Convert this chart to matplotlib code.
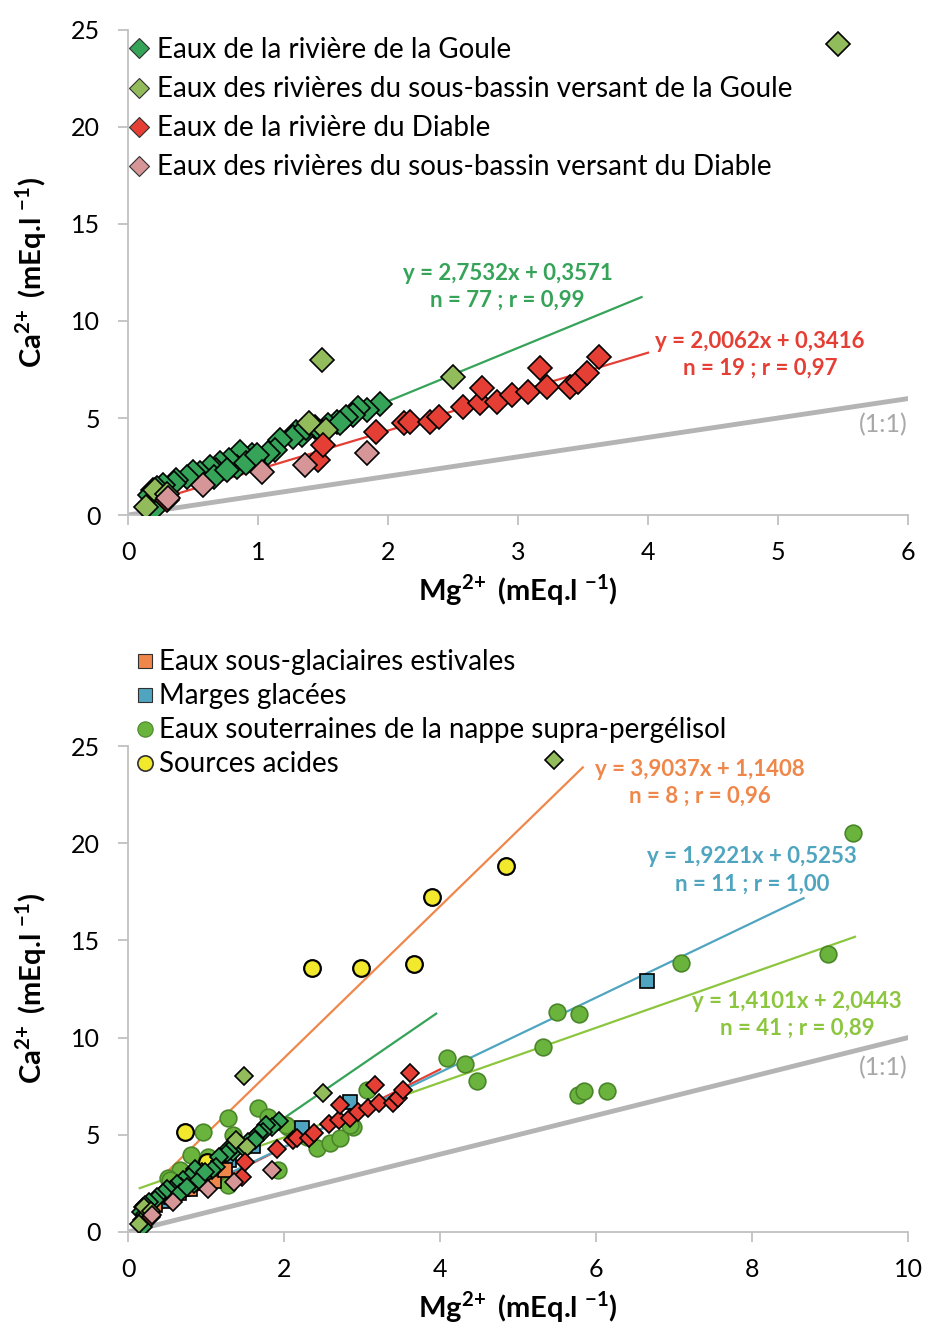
import matplotlib
matplotlib.use("Agg")
import matplotlib.pyplot as plt
from matplotlib.lines import Line2D

plt.rcParams['font.family'] = ['Lato', 'DejaVu Sans']
plt.rcParams['mathtext.fontset'] = 'custom'
plt.rcParams['mathtext.rm'] = 'Lato'
plt.rcParams['mathtext.bf'] = 'Lato:bold'

# --- data (Mg2+, Ca2+ in mEq/l) ---
goule_x = [1.94, 1.84, 1.77, 1.73, 1.68, 1.61, 1.54, 1.44, 1.34, 1.29, 1.27, 1.17, 1.13,
           1.08, 0.96, 0.95, 0.86, 0.84, 0.78, 0.71, 0.68, 0.63, 0.55, 0.50, 0.45, 0.37,
           0.35, 0.27, 0.22, 0.19, 0.17, 0.22, 0.18, 0.19, 0.66, 0.91, 0.76, 0.99, 1.37,
           1.49, 1.63]
goule_y = [5.72, 5.41, 5.50, 5.15, 5.07, 4.81, 4.64, 4.55, 4.12, 4.30, 4.04, 3.87, 3.35,
           3.18, 2.83, 3.09, 3.26, 2.49, 2.83, 2.66, 2.32, 2.49, 2.15, 2.23, 1.98, 1.80,
           1.63, 1.55, 1.37, 1.29, 1.03, 0.95, 0.60, 0.26, 1.98, 2.66, 2.32, 3.09, 4.47,
           4.30, 4.72]

goule_sb_x = [1.49, 2.50, 5.46, 0.14, 1.39, 1.52, 0.21, 0.30]
goule_sb_y = [8.00, 7.13, 24.3, 0.43, 4.73, 4.38, 1.30, 1.10]

diable_x = [0.30, 1.46, 1.50, 1.91, 2.12, 2.17, 2.32, 2.39, 2.58, 2.71, 2.72, 2.84, 2.95,
            3.08, 3.17, 3.22, 3.40, 3.46, 3.53, 3.62]
diable_y = [0.79, 2.83, 3.61, 4.29, 4.73, 4.81, 4.81, 5.07, 5.58, 5.76, 6.53, 5.84, 6.19,
            6.36, 7.56, 6.61, 6.61, 6.87, 7.30, 8.16]

diable_sb_x = [1.03, 1.36, 1.84, 0.31, 0.58]
diable_sb_y = [2.23, 2.58, 3.18, 0.86, 1.55]

glac_x = [0.20, 0.35, 0.55, 0.65, 0.80, 0.95, 1.10, 1.24]
glac_y = [0.90, 1.40, 1.80, 2.00, 2.20, 2.50, 2.60, 3.19]

marge_x = [6.65, 2.85, 2.23, 0.20, 0.30, 0.45, 0.70, 1.00, 1.30, 1.60, 1.15]
marge_y = [12.9, 6.70, 5.33, 0.90, 1.20, 1.60, 2.20, 2.90, 3.70, 4.40, 3.30]

nappe_x = [9.29, 8.97, 7.09, 5.50, 5.78, 5.32, 4.09, 4.32, 4.48, 5.77, 5.84, 6.14,
           0.96, 1.28, 1.67, 1.79, 2.05, 1.35, 0.81, 1.03, 0.66, 0.51, 1.28, 1.92,
           2.14, 3.06, 2.42, 2.59, 2.72, 2.89, 2.03, 2.85, 0.54, 0.25, 0.35, 0.45,
           0.60, 0.75, 0.20, 1.50, 2.30]
nappe_y = [20.5, 14.3, 13.84, 11.33, 11.21, 9.50, 8.93, 8.64, 7.77, 7.05, 7.27, 7.27,
           5.16, 5.85, 6.36, 5.93, 5.42, 4.99, 3.96, 3.87, 3.19, 2.76, 2.42, 3.19,
           5.25, 7.30, 4.30, 4.56, 4.82, 5.42, 5.50, 5.50, 2.67, 1.00, 1.50, 1.90,
           2.30, 2.80, 0.60, 4.40, 4.90]

acid_x = [0.73, 1.01, 2.36, 2.99, 3.67, 3.90, 4.85]
acid_y = [5.14, 3.62, 13.58, 13.58, 13.79, 17.23, 18.83]

# trend lines: slope, intercept, x start, x end
fit_goule = (2.7532, 0.3571, 0.15, 3.95)
fit_diable = (2.0062, 0.3416, 0.19, 4.0)
fit_glac = (3.9037, 1.1408, 0.42, 5.83)
fit_marge = (1.9221, 0.5253, 0.20, 8.66)
fit_nappe = (1.4101, 2.0443, 0.15, 9.32)

c_goule = '#35a358'
c_goule_sb = '#92bb5c'
c_diable = '#e53f35'
c_diable_sb = '#d69697'
c_glac = '#f0874a'
c_marge = '#4fa5bf'
c_nappe = '#6ab43d'
c_nappe_line = '#8cc63f'
c_acid = '#f3e92c'
c_gray = '#b4b4b4'

fig = plt.figure(figsize=(9.28, 13.26), dpi=100)
ax1 = fig.add_axes([0.138, 0.6116, 0.8405, 0.3658])
ax2 = fig.add_axes([0.138, 0.0709, 0.8405, 0.3665])

XLAB = r'Mg$^{\mathbf{2\!+}}$ (mEq.l $^{\mathbf{-1}}$)'
YLAB = r'Ca$^{\mathbf{2\!+}}$ (mEq.l $^{\mathbf{-1}}$)'


def fit(ax, f, color, lw=1.6):
    a, b, x0, x1 = f
    ax.plot([x0, x1], [a * x0 + b, a * x1 + b], color=color, lw=lw, zorder=2)


def style(ax, xmax, xstep):
    ax.set_xlim(0, xmax)
    ax.set_ylim(0, 25)
    ax.set_xticks(range(0, xmax + 1, xstep))
    ax.set_yticks(range(0, 26, 5))
    for s in ['top', 'right']:
        ax.spines[s].set_visible(False)
    for s in ['left', 'bottom']:
        ax.spines[s].set_color('#c0c0c0')
        ax.spines[s].set_linewidth(1.3)
    ax.tick_params(axis='x', length=7, width=1.3, color='#c0c0c0', labelsize=18, pad=12)
    ax.tick_params(axis='y', length=7, width=1.3, color='#c0c0c0', labelsize=18, pad=13)
    ax.set_xlabel(XLAB, fontsize=21, fontweight='bold', labelpad=6)
    ax.set_ylabel(YLAB, fontsize=21, fontweight='bold', labelpad=16)


def diamonds(ax, ms):
    kw = dict(ls='none', marker='D', ms=ms, mec='black', mew=1.2, zorder=4)
    ax.plot(goule_x, goule_y, mfc=c_goule, **kw)
    ax.plot(goule_sb_x, goule_sb_y, mfc=c_goule_sb, **kw)
    ax.plot(diable_x, diable_y, mfc=c_diable, **kw)
    ax.plot(diable_sb_x, diable_sb_y, mfc=c_diable_sb, **kw)


ann = dict(fontsize=16, fontweight='bold', ha='center', va='center', linespacing=1.35)

# ---- top panel ----
ax1.plot([0, 6], [0, 6], color=c_gray, lw=3.5, zorder=1)
fit(ax1, fit_goule, c_goule)
fit(ax1, fit_diable, c_diable)
diamonds(ax1, 12)
style(ax1, 6, 1)

ax1.text(2.92, 11.75, 'y = 2,7532x + 0,3571\nn = 77 ; r = 0,99', color=c_goule, **ann)
ax1.text(4.86, 8.25, 'y = 2,0062x + 0,3416\nn = 19 ; r = 0,97', color=c_diable, **ann)
ax1.text(5.81, 4.64, '(1:1)', color='#a8a8a8', fontsize=18, ha='center', va='center')

h1 = [Line2D([], [], ls='none', marker='D', ms=10, mec='#303030', mew=0.8, mfc=c)
      for c in [c_goule, c_goule_sb, c_diable, c_diable_sb]]
ax1.legend(h1, ['Eaux de la rivière de la Goule',
                'Eaux des rivières du sous-bassin versant de la Goule',
                'Eaux de la rivière du Diable',
                'Eaux des rivières du sous-bassin versant du Diable'],
           loc='upper left', bbox_to_anchor=(0.0, 0.988), frameon=False, fontsize=20,
           handlelength=0.7, handletextpad=0.3, labelspacing=0.47, borderpad=0.05,
           borderaxespad=0)

# ---- bottom panel ----
ax2.plot([0, 10], [0, 10], color=c_gray, lw=3.5, zorder=1)
fit(ax2, fit_glac, c_glac)
fit(ax2, fit_goule, c_goule)
fit(ax2, fit_diable, c_diable)
fit(ax2, fit_marge, c_marge)
fit(ax2, fit_nappe, c_nappe_line)
ckw = dict(ls='none', marker='o', ms=12, zorder=3)
ax2.plot(nappe_x, nappe_y, mfc=c_nappe, mec='#4a8529', mew=1.2, **ckw)
ax2.plot(acid_x, acid_y, mfc=c_acid, mec='black', mew=1.6, **ckw)
skw = dict(ls='none', marker='s', ms=10, mec='black', mew=1.2, zorder=3.5)
ax2.plot(marge_x, marge_y, mfc=c_marge, **skw)
ax2.plot(glac_x, glac_y, mfc=c_glac, **skw)
diamonds(ax2, 9.5)
style(ax2, 10, 2)

ax2.text(7.33, 23.1, 'y = 3,9037x + 1,1408\nn = 8 ; r = 0,96', color=c_glac, **ann)
ax2.text(8.0, 18.6, 'y = 1,9221x + 0,5253\nn = 11 ; r = 1,00', color=c_marge, **ann)
ax2.text(8.58, 11.16, 'y = 1,4101x + 2,0443\nn = 41 ; r = 0,89', color=c_nappe_line, **ann)
ax2.text(9.68, 8.44, '(1:1)', color='#a8a8a8', fontsize=18, ha='center', va='center')

h2 = [Line2D([], [], ls='none', marker='s', ms=10, mec='#303030', mew=0.8, mfc=c_glac),
      Line2D([], [], ls='none', marker='s', ms=10, mec='#303030', mew=0.8, mfc=c_marge),
      Line2D([], [], ls='none', marker='o', ms=11, mec='#4a8529', mew=0.8, mfc=c_nappe),
      Line2D([], [], ls='none', marker='o', ms=11, mec='#303030', mew=1.2, mfc=c_acid)]
ax2.legend(h2, ['Eaux sous-glaciaires estivales', 'Marges glacées',
                'Eaux souterraines de la nappe supra-pergélisol', 'Sources acides'],
           loc='upper left', bbox_to_anchor=(0.008, 1.202), frameon=False, fontsize=20,
           handlelength=0.7, handletextpad=0.15, labelspacing=0.29, borderpad=0.05,
           borderaxespad=0)

fig.savefig('out.png', dpi=100)
